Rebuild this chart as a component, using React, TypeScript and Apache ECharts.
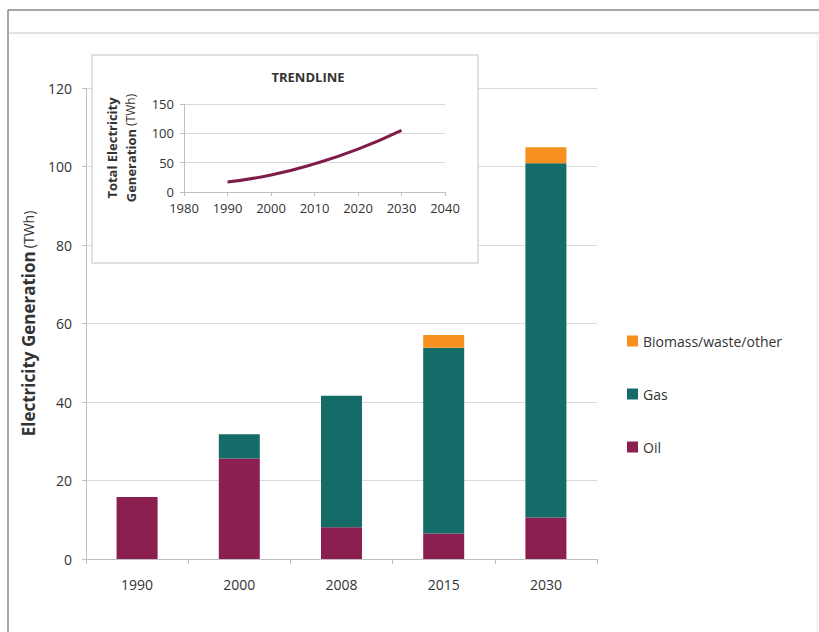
import React, { useEffect, useRef } from "react";
import * as echarts from "echarts";

const categories = ["1990", "2000", "2008", "2015", "2030"];
const oil = [15.8, 25.6, 8.1, 6.5, 10.6];
const gas = [0, 6.2, 33.5, 47.3, 90.2];
const biomass = [0, 0, 0, 3.3, 4.1];

const trendYears = [1990, 2000, 2010, 2020, 2030];
const trendValues = [17, 29, 48, 73, 105];

const FONT = "'Open Sans', 'Noto Sans', sans-serif";
const OIL = "#8b1f4f";
const GAS = "#146b67";
const BIO = "#f7901e";
const TXT = "#333333";

export default function App() {
  const ref = useRef<HTMLDivElement>(null);
  useEffect(() => {
    if (!ref.current) return;
    const chart = echarts.init(ref.current, undefined, { renderer: "svg" });
    chart.setOption({
      animation: false,
      backgroundColor: "#ffffff",
      textStyle: { fontFamily: FONT },
      legend: {
        orient: "vertical",
        left: 622,
        top: 329,
        itemWidth: 11,
        itemHeight: 11,
        itemGap: 39,
        icon: "rect",
        data: ["Biomass/waste/other", "Gas", "Oil"],
        textStyle: { fontSize: 14, color: TXT, fontFamily: FONT },
      },
      grid: [
        { left: 86, right: 222, top: 88, bottom: 73 },
        { left: 184, right: 374, top: 104, bottom: 440 },
      ],
      xAxis: [
        {
          type: "category",
          gridIndex: 0,
          data: categories,
          axisLine: { lineStyle: { color: "#bfbfbf" } },
          axisTick: { show: true, length: 5, lineStyle: { color: "#bfbfbf" } },
          axisLabel: { fontSize: 14, color: TXT, margin: 18, fontFamily: FONT },
          z: 0,
        },
        {
          type: "value",
          gridIndex: 1,
          min: 1980,
          max: 2040,
          interval: 10,
          axisLine: { show: true, lineStyle: { color: "#bfbfbf" } },
          axisTick: { show: true, length: 4, lineStyle: { color: "#bfbfbf" } },
          axisLabel: {
            fontSize: 13,
            color: TXT,
            margin: 9,
            fontFamily: FONT,
            formatter: (v: number) => String(v),
          },
          splitLine: { show: false },
          z: 5,
        },
      ],
      yAxis: [
        {
          type: "value",
          gridIndex: 0,
          min: 0,
          max: 120,
          interval: 20,
          axisLine: { show: true, lineStyle: { color: "#bfbfbf" } },
          axisTick: { show: true, length: 4, lineStyle: { color: "#bfbfbf" } },
          axisLabel: { fontSize: 14, color: TXT, margin: 14, fontFamily: FONT },
          splitLine: { lineStyle: { color: "#d9d9d9" } },
          name: "{b|Electricity Generation} {n|(TWh)}",
          nameLocation: "middle",
          nameRotate: 90,
          nameGap: 49,
          nameTextStyle: {
            rich: {
              b: { fontSize: 17, fontWeight: "bold", color: TXT, fontFamily: FONT },
              n: { fontSize: 14, color: TXT, fontFamily: FONT },
            },
          },
          z: 0,
        },
        {
          type: "value",
          gridIndex: 1,
          min: 0,
          max: 150,
          interval: 50,
          axisLine: { show: true, lineStyle: { color: "#bfbfbf" } },
          axisTick: { show: true, length: 4, lineStyle: { color: "#bfbfbf" } },
          axisLabel: { fontSize: 13, color: TXT, margin: 10, fontFamily: FONT },
          splitLine: { lineStyle: { color: "#d9d9d9" } },
          name: "{b|Total Electricity}\n{b|Generation} {n|(TWh)}",
          nameLocation: "middle",
          nameRotate: 90,
          nameGap: 44,
          nameTextStyle: {
            lineHeight: 19,
            rich: {
              b: { fontSize: 13, fontWeight: "bold", color: TXT, fontFamily: FONT, lineHeight: 19 },
              n: { fontSize: 12, color: TXT, fontFamily: FONT, lineHeight: 19 },
            },
          },
          z: 5,
        },
      ],
      graphic: {
        elements: [
          {
            type: "line",
            z: 10,
            shape: { x1: 8, y1: 10, x2: 819, y2: 10 },
            style: { stroke: "#8a8a8a", lineWidth: 1.5 },
          },
          {
            type: "line",
            z: 10,
            shape: { x1: 8, y1: 10, x2: 8, y2: 632 },
            style: { stroke: "#8a8a8a", lineWidth: 1.5 },
          },
          {
            type: "line",
            z: 10,
            shape: { x1: 9, y1: 33, x2: 819, y2: 33 },
            style: { stroke: "#e3e3e3", lineWidth: 2 },
          },
          {
            type: "line",
            z: 10,
            shape: { x1: 817, y1: 34, x2: 817, y2: 632 },
            style: { stroke: "#f0f0f0", lineWidth: 1 },
          },
          {
            type: "rect",
            z: 1,
            shape: { x: 92, y: 55, width: 386, height: 208 },
            style: { fill: "#ffffff", stroke: "#d6d6d6", lineWidth: 1.5 },
          },
          {
            type: "text",
            z: 6,
            x: 308,
            y: 77,
            style: {
              text: "TRENDLINE",
              fontSize: 13,
              fontWeight: "bold",
              fill: TXT,
              fontFamily: FONT,
              align: "center",
              verticalAlign: "middle",
            },
          },
        ],
      },
      series: [
        {
          name: "Oil",
          type: "bar",
          stack: "total",
          xAxisIndex: 0,
          yAxisIndex: 0,
          barWidth: 41,
          data: oil,
          itemStyle: { color: OIL },
        },
        {
          name: "Gas",
          type: "bar",
          stack: "total",
          xAxisIndex: 0,
          yAxisIndex: 0,
          barWidth: 41,
          data: gas,
          itemStyle: { color: GAS },
        },
        {
          name: "Biomass/waste/other",
          type: "bar",
          stack: "total",
          xAxisIndex: 0,
          yAxisIndex: 0,
          barWidth: 41,
          data: biomass,
          itemStyle: { color: BIO },
        },
        {
          name: "Trend",
          type: "line",
          xAxisIndex: 1,
          yAxisIndex: 1,
          data: trendYears.map((y, i) => [y, trendValues[i]]),
          smooth: 0.5,
          showSymbol: false,
          symbol: "none",
          lineStyle: { color: "#7f1d4a", width: 3 },
          z: 6,
        },
      ],
    });
    return () => chart.dispose();
  }, []);
  return (
    <div
      ref={ref}
      style={{ position: "fixed", left: 0, top: 0, width: 819, height: 632 }}
    />
  );
}
